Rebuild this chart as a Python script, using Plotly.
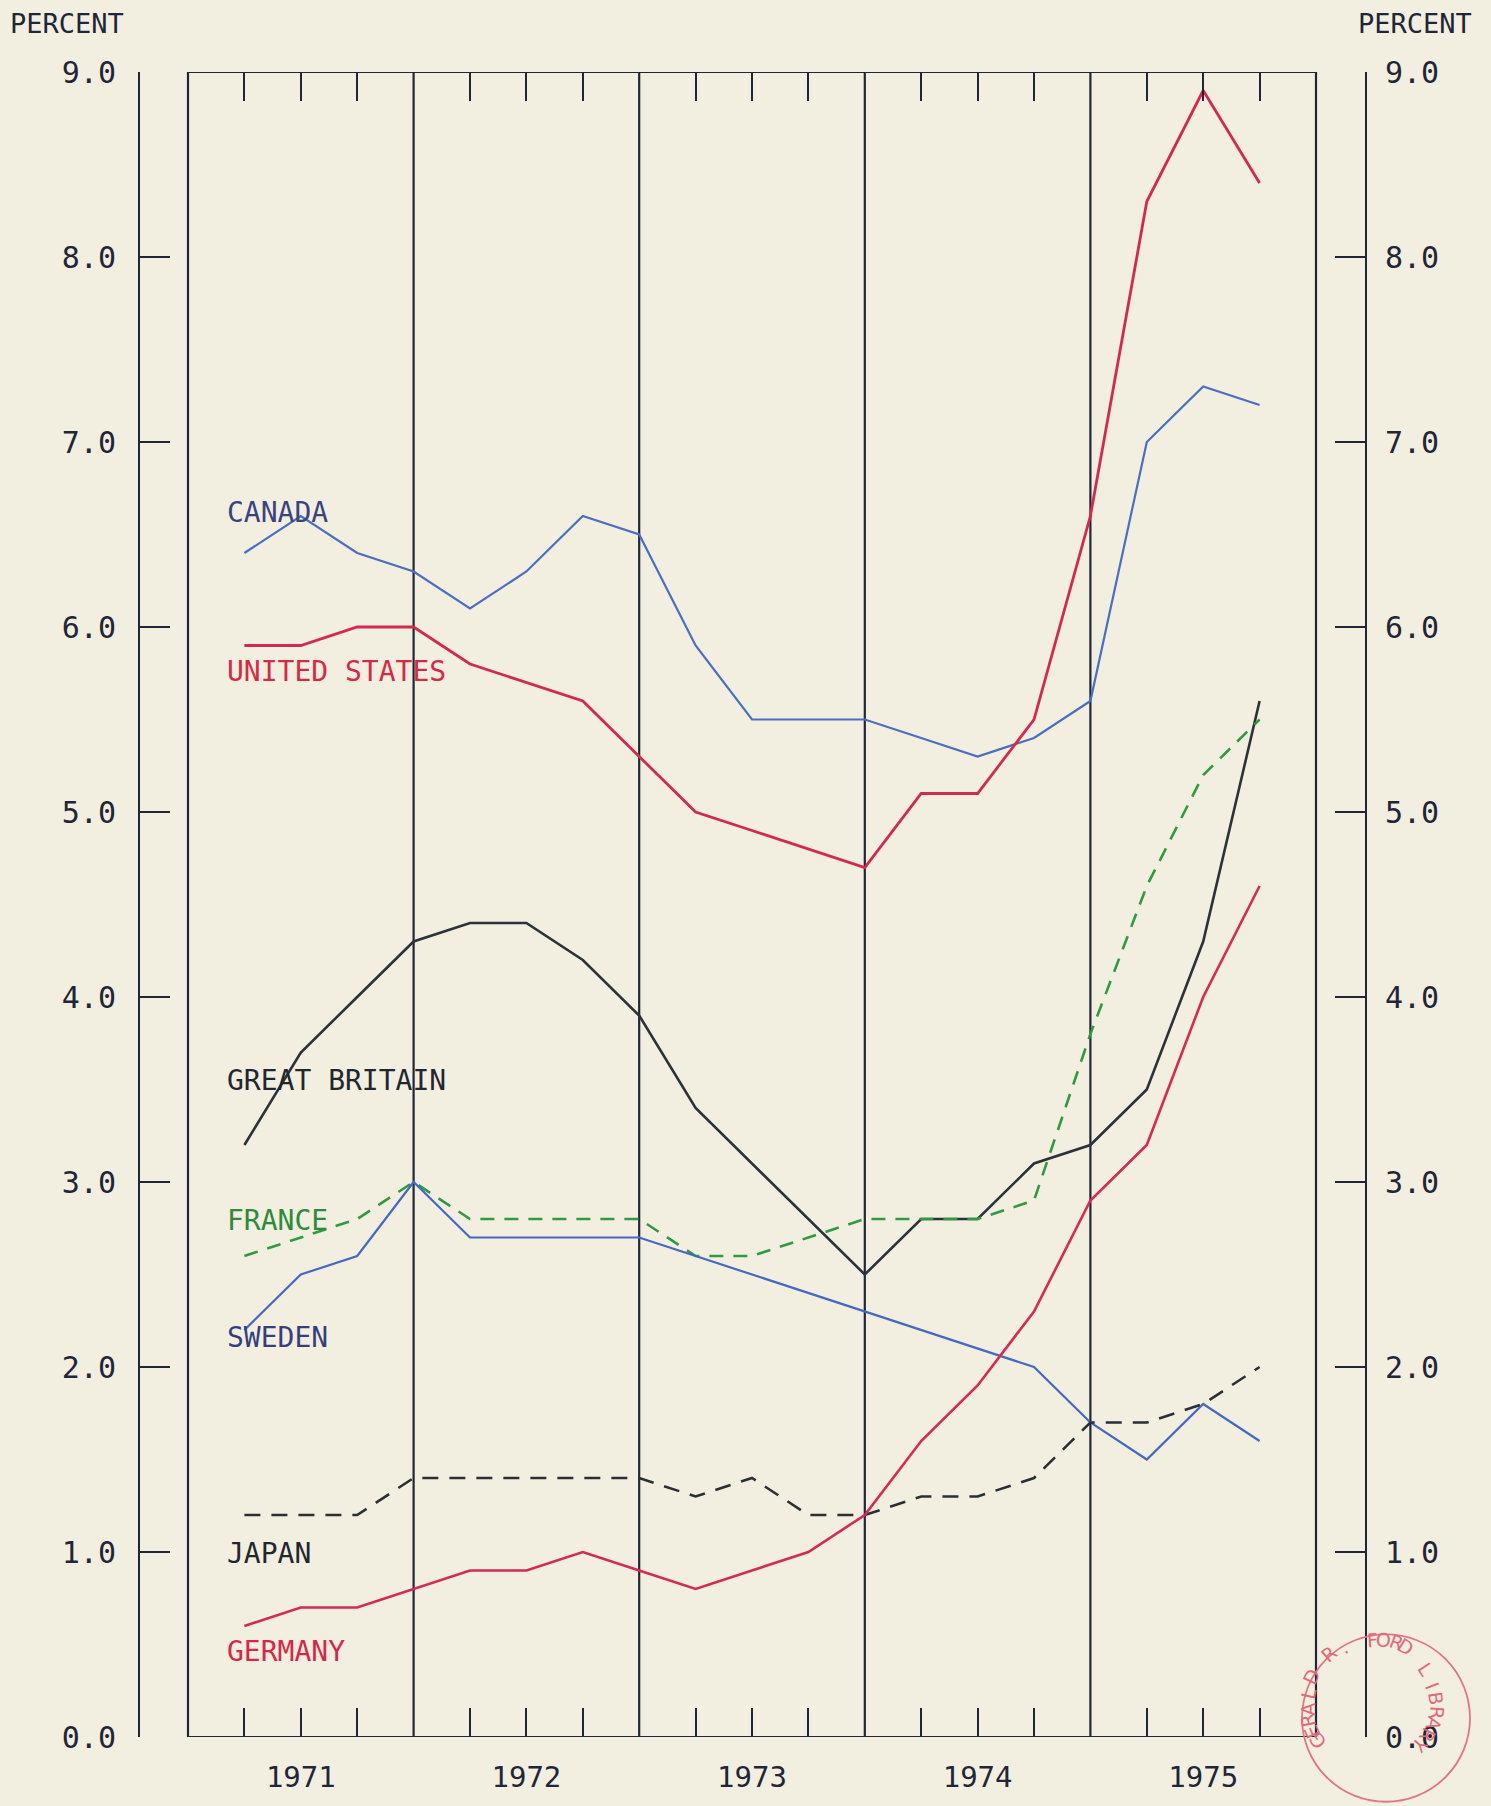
import math
import plotly.graph_objects as go

# ---------------- data ----------------
years = [1971, 1972, 1973, 1974, 1975]
quarters = [(y, q) for y in years for q in (1, 2, 3, 4)][:19]   # 1971Q1 .. 1975Q3
xq = [y + q / 4 for (y, q) in quarters]                          # end-of-quarter positions

canada = [6.4, 6.6, 6.4, 6.3, 6.1, 6.3, 6.6, 6.5, 5.9, 5.5, 5.5, 5.5, 5.4, 5.3, 5.4, 5.6, 7.0, 7.3, 7.2]
united_states = [5.9, 5.9, 6.0, 6.0, 5.8, 5.7, 5.6, 5.3, 5.0, 4.9, 4.8, 4.7, 5.1, 5.1, 5.5, 6.6, 8.3, 8.9, 8.4]
great_britain = [3.2, 3.7, 4.0, 4.3, 4.4, 4.4, 4.2, 3.9, 3.4, 3.1, 2.8, 2.5, 2.8, 2.8, 3.1, 3.2, 3.5, 4.3, 5.6]
france = [2.6, 2.7, 2.8, 3.0, 2.8, 2.8, 2.8, 2.8, 2.6, 2.6, 2.7, 2.8, 2.8, 2.8, 2.9, 3.8, 4.6, 5.2, 5.5]
sweden = [2.2, 2.5, 2.6, 3.0, 2.7, 2.7, 2.7, 2.7, 2.6, 2.5, 2.4, 2.3, 2.2, 2.1, 2.0, 1.7, 1.5, 1.8, 1.6]
japan = [1.2, 1.2, 1.2, 1.4, 1.4, 1.4, 1.4, 1.4, 1.3, 1.4, 1.2, 1.2, 1.3, 1.3, 1.4, 1.7, 1.7, 1.8, 2.0]
germany = [0.6, 0.7, 0.7, 0.8, 0.9, 0.9, 1.0, 0.9, 0.8, 0.9, 1.0, 1.2, 1.6, 1.9, 2.3, 2.9, 3.2, 4.0, 4.6]

y_ticks = [0, 1, 2, 3, 4, 5, 6, 7, 8, 9]
year_labels = [str(y) for y in years]

# ---------------- styles ----------------
BG = "#f3efe0"
INK = "#1f2638"
FONT = "DejaVu Sans Mono"

series = [
    ("CANADA", canada, "#4a6ec4", "solid", 2.2, "#3b4280", 6.62),
    ("UNITED STATES", united_states, "#d22a4e", "solid", 2.8, "#d42a45", 5.76),
    ("GREAT BRITAIN", great_britain, "#2b323a", "solid", 2.6, "#22262e", 3.55),
    ("FRANCE", france, "#2f9a3e", "14px,10px", 2.6, "#2e8a3c", 2.79),
    ("SWEDEN", sweden, "#4468c4", "solid", 2.2, "#353f7c", 2.16),
    ("JAPAN", japan, "#2a2f36", "16px,11px", 2.6, "#22262e", 0.99),
    ("GERMANY", germany, "#d42a55", "solid", 2.6, "#d4284a", 0.46),
]

W, H = 1491, 1806
ML, MR, MT, MB = 140, 126, 72, 63
X0 = years[0] - 48 / 225.6
X1 = years[-1] + 1 + 49 / 225.6

fig = go.Figure()
for name, vals, col, dash, w, _, _ in series:
    fig.add_trace(go.Scatter(x=xq, y=vals, mode="lines", name=name,
                             line=dict(color=col, width=w, dash=dash),
                             hoverinfo="skip", showlegend=False))

# invisible anchors so the overlaid axes render
fig.add_trace(go.Scatter(x=[xq[0]], y=[0], yaxis="y2", mode="markers",
                         marker=dict(opacity=0), showlegend=False, hoverinfo="skip"))
fig.add_trace(go.Scatter(x=[xq[0]], y=[0], xaxis="x2", mode="markers",
                         marker=dict(opacity=0), showlegend=False, hoverinfo="skip"))

quarter_ticks = [y + q / 4 for y in years for q in (1, 2, 3)]
year_centers = [y + 0.5 for y in years]

fig.update_layout(
    width=W, height=H,
    margin=dict(l=ML, r=MR, t=MT, b=MB),
    paper_bgcolor=BG, plot_bgcolor=BG,
    font=dict(family=FONT, color=INK),
    xaxis=dict(range=[X0, X1], showgrid=False, zeroline=False, showline=False,
               tickmode="array", tickvals=year_centers, ticktext=year_labels,
               ticks="", tickfont=dict(size=29, family=FONT, color=INK),
               ticklabelstandoff=20,
               minor=dict(tickmode="array", tickvals=quarter_ticks, ticks="inside",
                          ticklen=29, tickwidth=2, tickcolor=INK, showgrid=False)),
    xaxis2=dict(range=[X0, X1], overlaying="x", side="top", anchor="y",
                showgrid=False, zeroline=False, showline=False,
                tickmode="array", tickvals=quarter_ticks, ticks="inside",
                ticklen=29, tickwidth=2, tickcolor=INK, showticklabels=False),
    yaxis=dict(range=[0, 9], showgrid=False, zeroline=False, showline=True,
               linecolor=INK, linewidth=2, tickmode="array", tickvals=y_ticks,
               tickformat=".1f", ticks="inside", ticklen=30, tickwidth=2,
               tickcolor=INK, tickfont=dict(size=30, family=FONT, color=INK),
               ticklabelstandoff=16),
    yaxis2=dict(range=[0, 9], overlaying="y", side="right", showgrid=False,
                zeroline=False, showline=True, linecolor=INK, linewidth=2,
                tickmode="array", tickvals=y_ticks, tickformat=".1f",
                ticks="inside", ticklen=30, tickwidth=2, tickcolor=INK,
                tickfont=dict(size=30, family=FONT, color=INK),
                ticklabelstandoff=12),
)

# inner frame and year dividers
shapes = [dict(type="rect", xref="x", yref="y", x0=years[0], x1=years[-1] + 1,
               y0=0, y1=9, line=dict(color=INK, width=2.2), layer="below")]
for y in years[1:]:
    shapes.append(dict(type="line", xref="x", yref="y", x0=y, x1=y, y0=0, y1=9,
                       line=dict(color=INK, width=2.2), layer="below"))

# series labels
annotations = []
for name, _, _, _, _, lcol, ly in series:
    annotations.append(dict(x=years[0] + 0.164, y=ly, xref="x", yref="y", text=name,
                            showarrow=False, xanchor="left", yanchor="middle",
                            font=dict(size=28, family=FONT, color=lcol)))


def px2paper(px, py):
    return (px - ML) / (W - ML - MR), (H - MB - py) / (H - MT - MB)


# PERCENT headers
for px, anchor in ((8, "left"), (1474, "right")):
    ax, ay = px2paper(px, 23)
    annotations.append(dict(x=ax, y=ay, xref="paper", yref="paper", text="PERCENT",
                            showarrow=False, xanchor=anchor, yanchor="middle",
                            font=dict(size=27, family=FONT, color=INK)))

# archive stamp
cx, cy, r = 1386, 1724, 84
p0 = px2paper(cx - r, cy - r)
p1 = px2paper(cx + r, cy + r)
shapes.append(dict(type="circle", xref="paper", yref="paper", x0=p0[0], x1=p1[0],
                   y0=p1[1], y1=p0[1], line=dict(color="#e27585", width=1.8)))
stamp = "GERALD R. FORD LIBRARY"
a_start, a_end = 216.0, -40.0
for i, ch in enumerate(stamp):
    if ch == " ":
        continue
    th = a_start + (a_end - a_start) * i / (len(stamp) - 1)
    tr = math.radians(th)
    px = cx + 65 * math.cos(tr)
    py = cy - 65 * math.sin(tr)
    ax, ay = px2paper(px, py)
    annotations.append(dict(x=ax, y=ay, xref="paper", yref="paper", text=ch,
                            showarrow=False, textangle=90 - th,
                            font=dict(size=19, family="DejaVu Sans", color="#de6a7c")))

fig.update_layout(shapes=shapes, annotations=annotations)
fig.write_html("out.html",
               config={"displayModeBar": False},
               post_script="document.body.style.margin='0px';"
                           "document.body.style.background='" + BG + "';")
